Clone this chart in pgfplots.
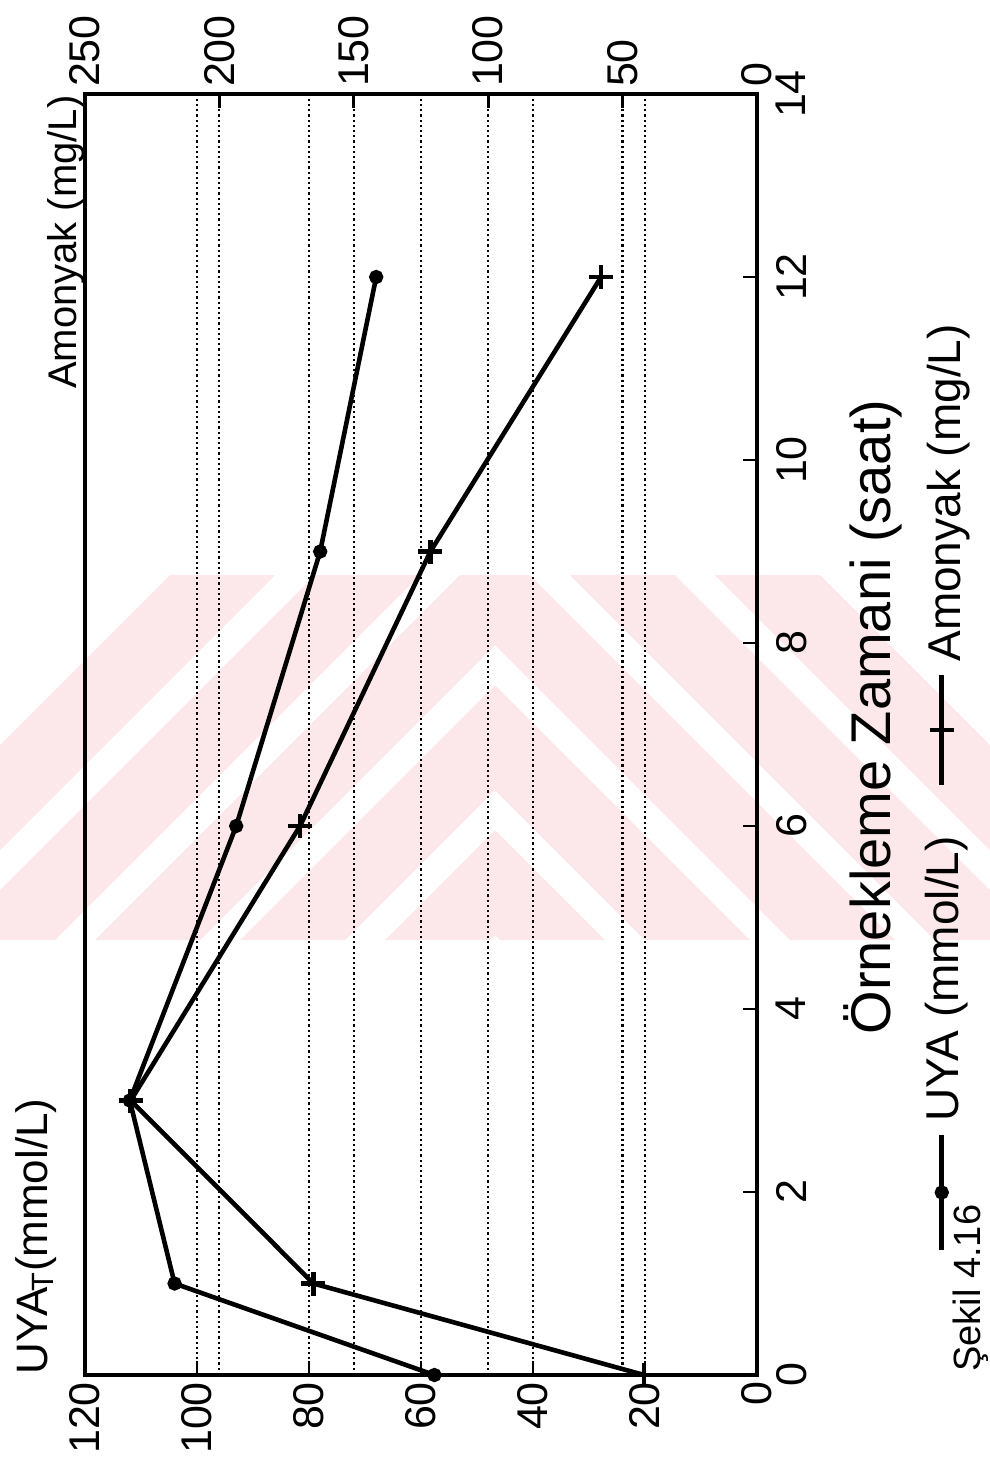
\documentclass[border=0pt]{standalone}
\usepackage{pgfplots}
\pgfplotsset{compat=1.18}
\usepackage{fontspec}
\setmainfont{Liberation Sans}
\definecolor{wmpink}{RGB}{252,231,235}

\pgfplotsset{
  chartbase/.style={
    scale only axis, width=336pt, height=640.5pt,
    at={(210.5pt,-367.25pt)}, anchor=center,
    x dir=reverse, ymin=0, ymax=14,
    tick align=inside, major tick length=7pt,
    axis line style={line width=1.7pt},
    every tick/.style={line width=1.4pt, black},
    xmajorgrids,
    grid style={black, line width=1.1pt, dash pattern=on 1.1pt off 1.5pt},
    /pgf/number format/assume math mode=true,
    ticklabel style={font=\fontsize{21.5}{21.5}\selectfont},
    clip=false,
  },
  series/.style={black, line width=2.3pt},
}

\begin{document}
\begin{tikzpicture}
\begin{scope}[x=0.5pt,y=-0.5pt]
  % faint diagonal stripes in the background
  \begin{scope}
    \clip (0,575) rectangle (495,940);
    \foreach \a in {-195,-50,95,240,385} {
      \fill[wmpink] ({\a},940) -- ({\a+105},940) -- ({\a+470},575) -- ({\a+365},575) -- cycle;
    }
  \end{scope}
  \begin{scope}
    \clip (495,575) rectangle (990,940);
    \foreach \a in {-195,-50,95,240,385} {
      \fill[wmpink] ({990-\a},940) -- ({990-\a-105},940) -- ({990-\a-470},575) -- ({990-\a-365},575) -- cycle;
    }
  \end{scope}
\end{scope}

% UYA (left scale, 0--120), time runs upwards
\begin{axis}[chartbase,
  xmin=0, xmax=120,
  xtick={0,20,...,120}, ytick={0,2,...,14},
  xtick pos=left, ytick pos=right,
  yticklabel pos=right,
  xticklabel style={rotate=90, anchor=east},
  yticklabel style={rotate=90, anchor=north},
  yticklabel shift=6pt,
]
\addplot[series, mark=*, mark size=2.4pt]
  coordinates {(57.6,0) (104,1) (112,3) (93,6) (78,9) (68,12)};
% key symbols, set beside the plot
\addplot[series, mark=*, mark size=2.4pt, mark repeat=2, mark phase=2, forget plot]
  coordinates {(-33,1.366) (-33,1.995) (-33,2.623)};
\addplot[series, mark=+, mark size=6pt, mark repeat=2, mark phase=2, forget plot]
  coordinates {(-33,6.45) (-33,7.05) (-33,7.65)};
\end{axis}

% Amonyak (top scale, 0--250)
\begin{axis}[chartbase,
  xmin=0, xmax=250, xtick={0,50,...,250},
  axis x line*=top, axis y line=none, ytick=\empty,
  xticklabel style={rotate=90, anchor=west},
]
\addplot[series, mark=+, mark size=6pt]
  coordinates {(42,0) (165,1) (233,3) (170,6) (121.5,9) (58,12)};
\end{axis}

\begin{scope}[x=0.5pt,y=-0.5pt]
  \node[rotate=90, anchor=base east, inner sep=0, font=\fontsize{20}{20}\selectfont] at (76,95) {Amonyak (mg/L)};
  \node[rotate=90, anchor=base west, inner sep=0, font=\fontsize{22}{22}\selectfont] at (47,1375) {UYA\kern-0.1em\textsubscript{T}(mmol/L)};
  \node[rotate=90, anchor=base, inner sep=0, font=\fontsize{28}{28}\selectfont] at (890,717) {Örnekleme Zamani (saat)};
  \node[rotate=90, anchor=base west, inner sep=0, font=\fontsize{23}{23}\selectfont] at (958,1122) {UYA (mmol/L)};
  \node[rotate=90, anchor=base west, inner sep=0, font=\fontsize{23}{23}\selectfont] at (960,662) {Amonyak (mg/L)};
  \node[rotate=90, anchor=base west, inner sep=0, font=\fontsize{19}{19}\selectfont] at (980,1372) {Şekil 4.16};
  \pgfresetboundingbox
  \path[use as bounding box] (0,0) rectangle (990,1469);
\end{scope}
\end{tikzpicture}
\end{document}
